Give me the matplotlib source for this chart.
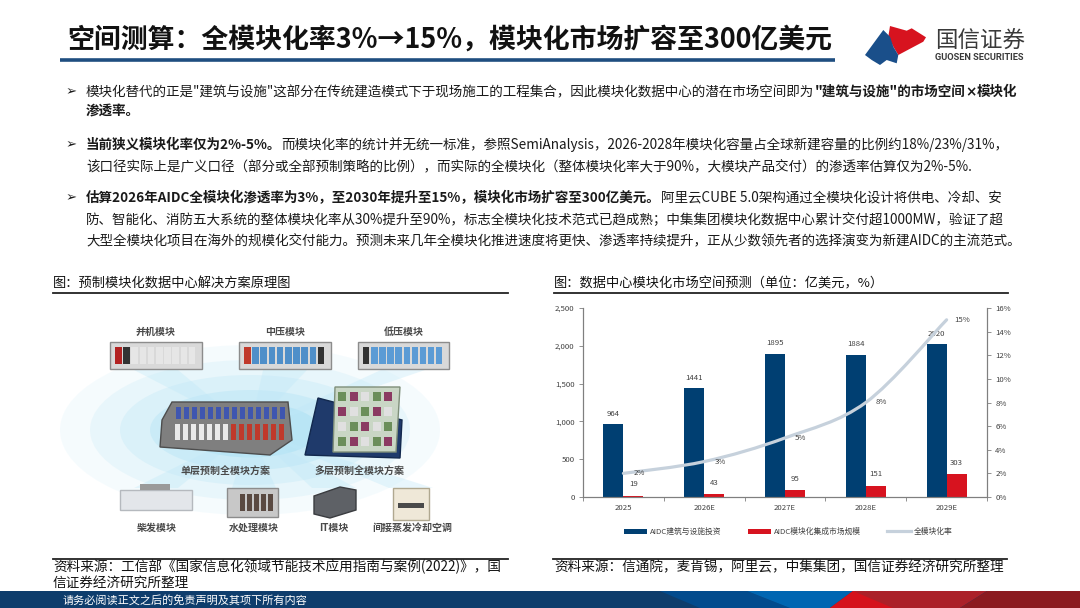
import matplotlib
matplotlib.use('Agg')
import matplotlib.pyplot as plt
import numpy as np
from matplotlib.patches import Rectangle, Polygon, Ellipse, Patch, PathPatch
from matplotlib.lines import Line2D
from matplotlib.path import Path
from matplotlib.ticker import FuncFormatter

plt.rcParams['font.family'] = ['Noto Sans CJK SC', 'DejaVu Sans']

# ---------------- data ----------------
years = ['2025', '2026E', '2027E', '2028E', '2029E']
aidc_invest = [964, 1441, 1895, 1884, 2020]
modular_market = [19, 43, 95, 151, 303]
modular_rate = [0.02, 0.03, 0.05, 0.08, 0.15]
rate_labels = ['2%', '3%', '5%', '8%', '15%']
series_names = ['AIDC建筑与设施投资', 'AIDC模块化集成市场规模', '全模块化率']
left_ticks = [0, 500, 1000, 1500, 2000, 2500]
right_ticks = [0, 0.02, 0.04, 0.06, 0.08, 0.10, 0.12, 0.14, 0.16]

title_text = '空间测算：全模块化率3%→15%，模块化市场扩容至300亿美元'
chart_title = '图：数据中心模块化市场空间预测（单位：亿美元，%）'
pic_title = '图：预制模块化数据中心解决方案原理图'
src_left = ['资料来源：工信部《国家信息化领域节能技术应用指南与案例(2022)》，国', '信证券经济研究所整理']
src_right = '资料来源：信通院，麦肯锡，阿里云，中集集团，国信证券经济研究所整理'
footer_text = '请务必阅读正文之后的免责声明及其项下所有内容'

bullets = [
    [[('模块化替代的正是"建筑与设施"这部分在传统建造模式下于现场施工的工程集合，因此模块化数据中心的潜在市场空间即为', False),
      ('"建筑与设施"的市场空间', True), ('×', True, 'DejaVu Sans'), ('模块化', True)],
     [('渗透率。', True)]],
    [[('当前狭义模块化率仅为2%-5%。', True),
      ('而模块化率的统计并无统一标准，参照SemiAnalysis，2026-2028年模块化容量占全球新建容量的比例约18%/23%/31%，', False)],
     [('该口径实际上是广义口径（部分或全部预制策略的比例），而实际的全模块化（整体模块化率大于90%，大模块产品交付）的渗透率估算仅为2%-5%.', False)]],
    [[('估算2026年AIDC全模块化渗透率为3%，至2030年提升至15%，模块化市场扩容至300亿美元。', True),
      ('阿里云CUBE 5.0架构通过全模块化设计将供电、冷却、安', False)],
     [('防、智能化、消防五大系统的整体模块化率从30%提升至90%，标志全模块化技术范式已趋成熟；中集集团模块化数据中心累计交付超1000MW，验证了超', False)],
     [('大型全模块化项目在海外的规模化交付能力。预测未来几年全模块化推进速度将更快、渗透率持续提升，正从少数领先者的选择演变为新建AIDC的主流范式。', False)]],
]
bullet_line_y = [[92, 112], [145, 166], [198, 219, 240]]

pic_labels_top = ['并机模块', '中压模块', '低压模块']
pic_labels_mid = ['单层预制全模块方案', '多层预制全模块方案']
pic_labels_bot = ['柴发模块', '水处理模块', 'IT模块', '间接蒸发冷却空调']

BLUE = '#003f72'
RED = '#d7131f'
GREY_LINE = '#c6d1dc'
TXT = '#404040'

W, H = 1080, 608
fig = plt.figure(figsize=(10.8, 6.08), dpi=100)
fig.patch.set_facecolor('white')
ov = fig.add_axes([0, 0, 1, 1])
ov.set_xlim(0, W)
ov.set_ylim(H, 0)
ov.axis('off')
renderer = fig.canvas.get_renderer()


def fit_text(x, y, s, target_w, size, **kw):
    t = ov.text(x, y, s, fontsize=size, **kw)
    w = t.get_window_extent(renderer).width
    t.set_fontsize(size * target_w / w)
    return t


def draw_runs(x, y, runs, size):
    for run in runs:
        txt, bold = run[0], run[1]
        kw = {}
        if len(run) > 2:
            kw['family'] = [run[2]]
        t = ov.text(x, y, txt, fontsize=size, fontweight='bold' if bold else 'normal',
                    ha='left', va='center', color='#1a1a1a', **kw)
        x += t.get_window_extent(renderer).width
    return x

# ---------------- header ----------------
fit_text(67, 40, title_text, 766, 19, fontweight='bold', ha='left', va='center', color='#111111')
ov.plot([60, 835], [60, 60], color='#1f4e80', lw=2.6, solid_capstyle='butt')

# logo
red_pts = [(890, 26), (906.7, 30.7), (911.7, 28.3), (926, 37.3), (923.3, 41.7), (898.3, 55),
           (893.3, 46.7), (888.3, 36.7)]
blue_pts = [(865, 55), (883.3, 30), (890, 36.7), (893.3, 46.7), (898.3, 55), (896.7, 63.3),
            (886.7, 60), (880, 65), (871.7, 60)]
ov.add_patch(Polygon(red_pts, closed=True, color='#d7131f', lw=0))
ov.add_patch(Polygon(blue_pts, closed=True, color='#1a4f8a', lw=0))
fit_text(935, 40, '国信证券', 90, 15, ha='left', va='center', color='#3a3a3a')
fit_text(935, 58, 'GUOSEN SECURITIES', 89, 6.5, ha='left', va='center', color='#3a3a3a',
         fontweight='bold', family=['Roboto', 'DejaVu Sans'])

# ---------------- bullets ----------------
BSIZE = 9.75
for paras, ys in zip(bullets, bullet_line_y):
    ov.text(66, ys[0], '➢', fontsize=9.5, ha='left', va='center', color='#1a1a1a',
            family=['DejaVu Sans'])
    for runs, yy in zip(paras, ys):
        draw_runs(86, yy, runs, BSIZE)

# ---------------- left picture panel ----------------
ov.text(53, 284, pic_title, fontsize=9.5, ha='left', va='center', color='#111111')
ov.plot([53, 508], [292.5, 292.5], color='#222222', lw=1.3)
ov.plot([53, 508], [558.5, 558.5], color='#222222', lw=1.3)

# glow
for (ew, eh, a) in [(380, 170, 0.07), (320, 140, 0.10), (260, 110, 0.13), (200, 80, 0.17), (140, 55, 0.22)]:
    ov.add_patch(Ellipse((250, 430), ew, eh, color='#7fd0f0', alpha=a, lw=0))
# rays
for (x0, y0) in [(156, 370), (285, 370), (403, 370), (156, 488), (254, 488), (334, 488), (411, 488)]:
    ov.add_patch(Polygon([(250, 430), (x0 - 22, y0), (x0 + 22, y0)], closed=True,
                         color='#bfe8f8', alpha=0.35, lw=0))

# top modules
top_boxes = [(110, 202), (239, 331), (358, 449)]
top_fill = [['#b22222', '#333333'] + ['#e6e6e6'] * 8,
            ['#c0392b'] + ['#4f8fc9'] * 8 + ['#333333'],
            ['#333333'] + ['#5b9bd5'] * 9]
for (xa, xb), cols, lab in zip(top_boxes, top_fill, pic_labels_top):
    ov.add_patch(Rectangle((xa, 342), xb - xa, 27, facecolor='#d9d9d9', edgecolor='#8c8c8c', lw=1))
    n = len(cols)
    cw = (xb - xa - 10) / n
    for k, c in enumerate(cols):
        ov.add_patch(Rectangle((xa + 5 + k * cw, 347), cw * 0.8, 17, facecolor=c, edgecolor='none'))
    ov.text((xa + xb) / 2, 332, lab, fontsize=7.2, ha='center', va='center', color='#4a4a4a', fontweight='bold')

# single-layer block
ov.add_patch(Polygon([(172, 402), (288, 402), (292, 440), (270, 455), (160, 447), (162, 420)],
                     closed=True, facecolor='#7f7f7f', edgecolor='#4d4d4d', lw=1))
for k in range(14):
    xx = 176 + k * 8
    ov.add_patch(Rectangle((xx, 407), 5, 12, facecolor='#3f56b0', edgecolor='none'))
    ov.add_patch(Rectangle((xx - 1, 424), 5, 16, facecolor='#e9e9e9' if k < 7 else '#c0392b', edgecolor='none'))
# multi-layer block
ov.add_patch(Polygon([(318, 398), (305, 455), (400, 458), (402, 420)], closed=True,
                     facecolor='#1f3a6b', edgecolor='#12284d', lw=1))
ov.add_patch(Polygon([(335, 387), (400, 387), (396, 452), (333, 452)], closed=True,
                     facecolor='#c9d6c5', edgecolor='#7f8f7a', lw=1))
for r in range(4):
    for c in range(5):
        ov.add_patch(Rectangle((338 + c * 11.5, 392 + r * 15), 8, 9,
                               facecolor=['#6b8e5a', '#8b3a62', '#e0e0e0'][(r + c) % 3], edgecolor='none'))
ov.text(226, 472, pic_labels_mid[0], fontsize=7.2, ha='center', va='center', color='#4a4a4a', fontweight='bold')
ov.text(359, 472, pic_labels_mid[1], fontsize=7.2, ha='center', va='center', color='#4a4a4a', fontweight='bold')

# bottom modules
ov.add_patch(Rectangle((120, 490), 72, 20, facecolor='#e3e6ea', edgecolor='#b5b9be', lw=1))
ov.add_patch(Rectangle((140, 484), 30, 6, facecolor='#9a9a9a', edgecolor='none'))
ov.add_patch(Rectangle((227, 488), 51, 29, facecolor='#c8c8c8', edgecolor='#8c8c8c', lw=1))
for k in range(5):
    ov.add_patch(Rectangle((240 + k * 7, 494), 5, 17, facecolor='#5a4a42', edgecolor='none'))
ov.add_patch(Polygon([(314, 496), (340, 487), (356, 490), (356, 510), (330, 518), (314, 514)],
                     closed=True, facecolor='#5e6166', edgecolor='#3a3c40', lw=1))
ov.add_patch(Rectangle((393, 488), 36, 32, facecolor='#efe8d8', edgecolor='#b0a890', lw=1))
ov.add_patch(Rectangle((398, 503), 26, 5, facecolor='#4a4a4a', edgecolor='none'))
for xc, lab in zip([157, 254, 334, 412], pic_labels_bot):
    ov.text(xc, 528, lab, fontsize=7.2, ha='center', va='center', color='#4a4a4a', fontweight='bold')

# ---------------- right chart ----------------
ov.text(554, 284, chart_title, fontsize=9.5, ha='left', va='center', color='#111111')
ov.plot([554, 1008], [292.5, 292.5], color='#222222', lw=1.3)
ov.plot([553, 1007], [558.5, 558.5], color='#222222', lw=1.3)

ax = fig.add_axes([583 / W, 1 - 497 / H, 404 / W, 189 / H])
ax.set_facecolor('none')
x = np.arange(len(years))
bw = 0.248
ax.bar(x - bw / 2, aidc_invest, width=bw, color=BLUE, zorder=2)
ax.bar(x + bw / 2, modular_market, width=bw, color=RED, zorder=2)
for xi, v in zip(x, aidc_invest):
    ax.annotate(f'{v}', (xi - bw / 2, v), xytext=(0, 7.6), textcoords='offset points',
                ha='center', va='center', fontsize=5.6, color=TXT)
for xi, v in zip(x, modular_market):
    ax.annotate(f'{v}', (xi + bw / 2, v), xytext=(0, 8.0), textcoords='offset points',
                ha='center', va='center', fontsize=5.6, color=TXT)
ax.set_xlim(-0.5, len(years) - 0.5)
ax.set_ylim(0, 2500)
ax.set_yticks(left_ticks)
ax.yaxis.set_major_formatter(FuncFormatter(lambda v, p: f'{int(v):,}'))
ax.set_xticks(x)
ax.set_xticklabels(years)
ax.set_xticks(np.arange(-0.5, len(years), 1), minor=True)
ax.tick_params(axis='x', which='major', length=0, labelsize=5.6, labelcolor=TXT, pad=5)
ax.tick_params(axis='x', which='minor', length=3, width=0.6, color='#7f7f7f', direction='out')
ax.tick_params(axis='y', length=3, width=0.6, color='#7f7f7f', labelsize=5.6, labelcolor=TXT, pad=3)
ax.spines['top'].set_visible(False)
for s in ['left', 'bottom', 'right']:
    ax.spines[s].set_color('#7f7f7f')
    ax.spines[s].set_linewidth(0.8)

ax2 = ax.twinx()
ax2.set_ylim(0, 0.16)
ax2.set_yticks(right_ticks)
ax2.yaxis.set_major_formatter(FuncFormatter(lambda v, p: f'{int(round(v * 100))}%'))
ax2.tick_params(axis='y', length=3, width=0.6, color='#7f7f7f', labelsize=5.6, labelcolor=TXT, pad=3)
ax2.spines['top'].set_visible(False)
for s in ['left', 'bottom', 'right']:
    ax2.spines[s].set_color('#7f7f7f')
    ax2.spines[s].set_linewidth(0.8)

# smoothed line (Catmull-Rom -> cubic Bezier through the data points)
pts = np.column_stack([x.astype(float), np.array(modular_rate)])
ext = np.vstack([pts[0], pts, pts[-1]])
verts = [tuple(pts[0])]
codes = [Path.MOVETO]
for i in range(len(pts) - 1):
    p0, p1, p2, p3 = ext[i], ext[i + 1], ext[i + 2], ext[i + 3]
    c1 = p1 + (p2 - p0) / 6.0
    c2 = p2 - (p3 - p1) / 6.0
    verts += [tuple(c1), tuple(c2), tuple(p2)]
    codes += [Path.CURVE4] * 3
ax2.add_patch(PathPatch(Path(verts, codes), facecolor='none', edgecolor=GREY_LINE, lw=2.3,
                        capstyle='round', zorder=3))
for xi, v, lbl in zip(x, modular_rate, rate_labels):
    ax2.annotate(lbl, (xi, v), xytext=(11.3, 0), textcoords='offset points',
                 ha='center', va='center', fontsize=5.6, color=TXT)

handles = [Patch(facecolor=BLUE), Patch(facecolor=RED), Line2D([], [], color=GREY_LINE, lw=2.3)]
fig.legend(handles, series_names, loc='center', bbox_to_anchor=(788 / W, 1 - 532 / H), ncol=3,
           frameon=False, fontsize=5.6, handlelength=3.0, handleheight=0.75, handletextpad=0.35,
           columnspacing=3.4, labelcolor=TXT)

# ---------------- sources ----------------
ov.text(53, 567, src_left[0], fontsize=9.8, ha='left', va='center', color='#111111')
ov.text(53, 583, src_left[1], fontsize=9.8, ha='left', va='center', color='#111111')
ov.text(554, 567, src_right, fontsize=9.8, ha='left', va='center', color='#111111')

# ---------------- footer ----------------
ov.add_patch(Rectangle((0, 591), W, 17, facecolor='#0e3d6c', edgecolor='none'))
ov.add_patch(Polygon([(660, 591), (747, 591), (790, 608), (700, 608)], closed=True, color='#024b8d', lw=0))
ov.add_patch(Polygon([(747, 591), (853, 591), (830, 608), (790, 608)], closed=True, color='#0066b2', lw=0))
ov.add_patch(Polygon([(853, 591), (987, 591), (960, 608), (830, 608)], closed=True, color='#ab2129', lw=0))
ov.add_patch(Polygon([(853, 591), (830, 608), (893, 608)], closed=True, color='#d5121c', lw=0))
ov.add_patch(Polygon([(987, 591), (1080, 591), (1080, 608), (960, 608)], closed=True, color='#8b1b20', lw=0))
ov.text(63, 600, footer_text, fontsize=8, ha='left', va='center', color='white')

fig.savefig('out.png', dpi=100, facecolor='white')
